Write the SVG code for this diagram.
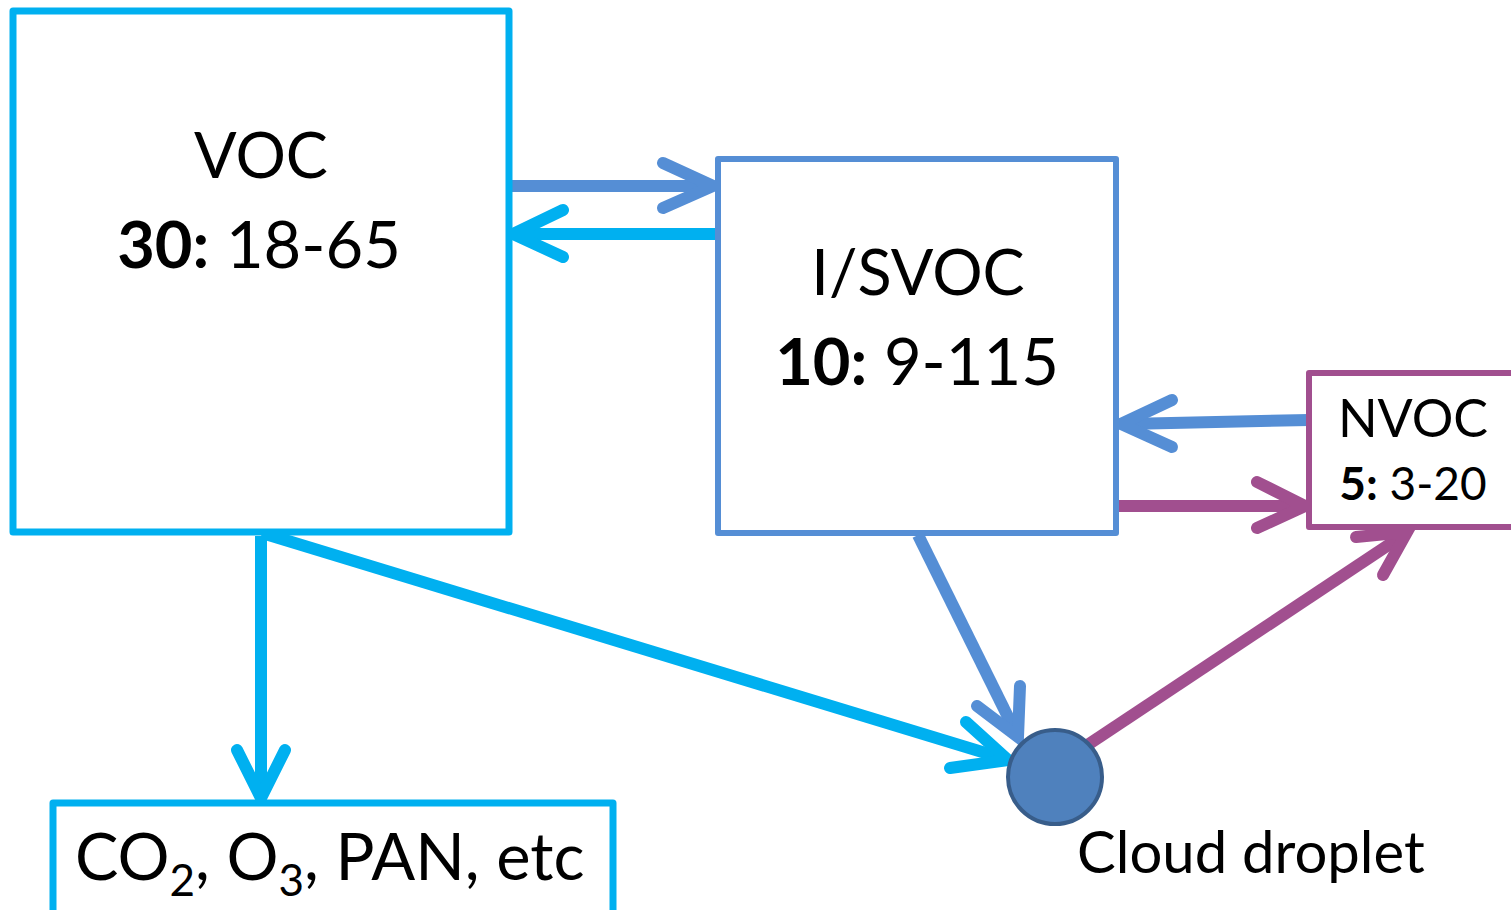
<svg xmlns="http://www.w3.org/2000/svg" width="1511" height="910" viewBox="0 0 1511 910">
  <style>
    .box { fill: #FFFFFF; stroke-linejoin: round; }
    .cyan { stroke: #00B0F0; }
    .blue { stroke: #558ED5; }
    .purple { stroke: #A14F8F; }
    .line { fill: none; stroke-width: 12; }
    .head { fill: none; stroke-width: 12; stroke-linecap: round; stroke-linejoin: miter; stroke-miterlimit: 10; }
    text { font-family: Lato, "Open Sans", "Liberation Sans", sans-serif; fill: #000000; }
    .b { font-weight: bold; }
  </style>

  <!-- connectors -->
  <g id="connectors">
    <!-- VOC to I/SVOC -->
    <line class="line blue" x1="510" y1="186" x2="708" y2="186"/>
    <polyline class="head blue" points="663,163 713,186 663,208"/>
    <!-- I/SVOC to VOC -->
    <line class="line cyan" x1="717" y1="234" x2="518" y2="234"/>
    <polyline class="head cyan" points="563,210 513,234 563,257"/>
    <!-- VOC to products -->
    <line class="line cyan" x1="261" y1="536" x2="261" y2="792"/>
    <polyline class="head cyan" points="237,750 261,798 285,750"/>
    <!-- VOC to cloud droplet -->
    <line class="line cyan" x1="262" y1="533" x2="1002" y2="758"/>
    <polyline class="head cyan" points="966,722 1008,760 950,768"/>
    <!-- I/SVOC to cloud droplet -->
    <line class="line blue" x1="918" y1="535" x2="1015" y2="731"/>
    <polyline class="head blue" points="1020,686 1018,737 977,706"/>
    <!-- internal exchange, dotted double arrow -->
    <line x1="1085" y1="250" x2="1085" y2="478" stroke="#558ED5" stroke-width="12" stroke-dasharray="13 14"/>
    <polyline class="head blue" points="1062,263 1085,214 1108,263"/>
    <polyline class="head blue" points="1062,467 1085,517 1108,467"/>
    <!-- NVOC to I/SVOC -->
    <line class="line blue" x1="1309" y1="420" x2="1126" y2="424"/>
    <polyline class="head blue" points="1172,400 1121,424 1172,447"/>
    <!-- I/SVOC to NVOC -->
    <line class="line purple" x1="1117" y1="506" x2="1300" y2="506"/>
    <polyline class="head purple" points="1257,482 1305,506 1257,528"/>
    <!-- cloud droplet to NVOC -->
    <line class="line purple" x1="1086" y1="746" x2="1402" y2="536"/>
    <polyline class="head purple" points="1356,537 1407,532 1383,575"/>
  </g>

  <!-- VOC -->
  <g id="voc">
    <rect class="box cyan" x="13" y="11" width="496" height="521" stroke-width="7"/>
    <text x="261" y="178" font-size="63" text-anchor="middle">VOC</text>
    <text x="259" y="268" font-size="65" text-anchor="middle"><tspan class="b">30:</tspan> 18-65</text>
  </g>

  <!-- I/SVOC -->
  <g id="isvoc">
    <rect class="box blue" x="718" y="159" width="398" height="374" stroke-width="6"/>
    <text x="918" y="295" font-size="63" text-anchor="middle">I/SVOC</text>
    <text x="917" y="385" font-size="65" text-anchor="middle"><tspan class="b">10:</tspan> 9-115</text>
  </g>

  <!-- NVOC -->
  <g id="nvoc">
    <rect class="box purple" x="1309" y="373" width="220" height="154" stroke-width="6"/>
    <text x="1413" y="437" font-size="52" text-anchor="middle">NVOC</text>
    <text x="1413" y="500" font-size="46" text-anchor="middle"><tspan class="b">5:</tspan> 3-20</text>
  </g>

  <!-- products -->
  <g id="products">
    <rect class="box cyan" x="53" y="803" width="560" height="140" stroke-width="7"/>
    <text x="75" y="880" font-size="65">CO<tspan font-size="44" dy="16">2</tspan><tspan dy="-16">, O</tspan><tspan font-size="44" dy="16">3</tspan><tspan dy="-16">, PAN, etc</tspan></text>
  </g>

  <!-- cloud droplet -->
  <g id="droplet">
    <circle cx="1055" cy="777" r="47" fill="#4F81BD" stroke="#385D8A" stroke-width="4"/>
    <text x="1077" y="873" font-size="58">Cloud droplet</text>
  </g>
</svg>
